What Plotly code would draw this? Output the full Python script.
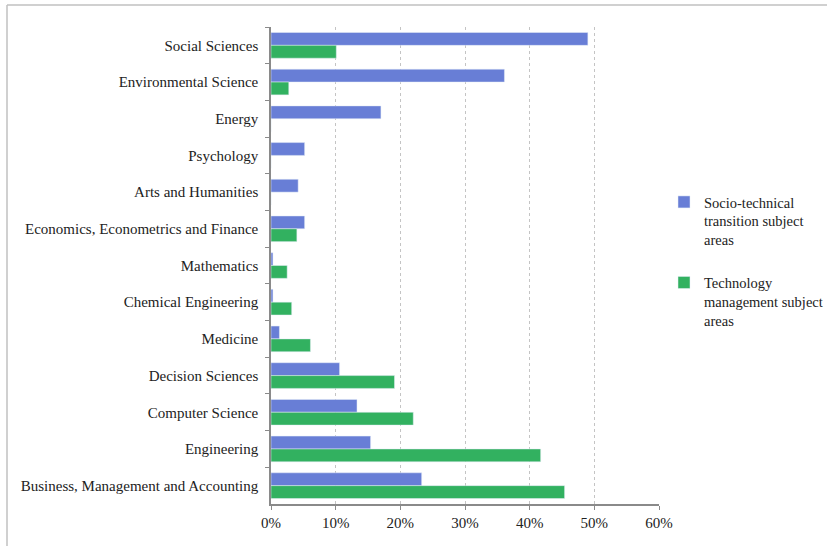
import plotly.graph_objects as go

categories = [
    "Social Sciences", "Environmental Science", "Energy", "Psychology",
    "Arts and Humanities", "Economics, Econometrics and Finance", "Mathematics",
    "Chemical Engineering", "Medicine", "Decision Sciences", "Computer Science",
    "Engineering", "Business, Management and Accounting",
]
socio_technical = [49.0, 36.1, 17.0, 5.2, 4.2, 5.2, 0.3, 0.3, 1.3, 10.6, 13.3, 15.4, 23.3]
tech_management = [10.1, 2.75, 0, 0, 0, 4.0, 2.5, 3.2, 6.1, 19.1, 22.0, 41.7, 45.4]
series_names = ["Socio-technical<br>transition subject<br>areas",
                "Technology<br>management subject<br>areas"]
x_ticks = [0, 10, 20, 30, 40, 50, 60]
x_tick_labels = ["0%", "10%", "20%", "30%", "40%", "50%", "60%"]

FONT = "Liberation Serif, Times New Roman, serif"
L, R, T, B = 271, 169, 27, 42
W, H = 828, 546
pw, ph = W - L - R, H - T - B

fig = go.Figure()
fig.add_trace(go.Bar(y=categories, x=socio_technical, orientation="h",
                     name=series_names[0], marker_color="#687ED6",
                     legendgroup="a"))
fig.add_trace(go.Bar(y=categories, x=tech_management, orientation="h",
                     name=series_names[1], marker_color="#32B160",
                     legendgroup="b"))

def px_x(p):
    return (p - L) / pw

def px_y(p):
    return (H - B - p) / ph

fig.update_layout(
    width=W, height=H,
    margin=dict(l=L, r=R, t=T, b=B, autoexpand=False),
    paper_bgcolor="white", plot_bgcolor="white",
    barmode="group", bargap=0.3, bargroupgap=0.0,
    font=dict(family=FONT, size=15, color="#222"),
    showlegend=True,
    legend=dict(x=px_x(664), y=px_y(186), xanchor="left", yanchor="top",
                valign="top", tracegroupgap=21, traceorder="grouped",
                font=dict(family=FONT, size=14.5, color="#222"),
                bgcolor="rgba(0,0,0,0)"),
    xaxis=dict(range=[0, 60], tickvals=x_ticks, ticktext=x_tick_labels,
               showgrid=True, gridcolor="#c4c4c4", griddash="3px,3px", gridwidth=1,
               showline=True, linecolor="#8a8a8a", linewidth=1.5,
               ticks="outside", ticklen=4, tickcolor="#8a8a8a",
               zeroline=False, fixedrange=True),
    yaxis=dict(categoryorder="array", categoryarray=categories,
               autorange="reversed", showgrid=False,
               showline=True, linecolor="#8a8a8a", linewidth=1.5,
               ticks="outside", ticklen=4, tickcolor="#8a8a8a",
               tickson="boundaries", ticklabelstandoff=8,
               fixedrange=True),
    shapes=[
        dict(type="line", xref="paper", yref="paper",
             x0=px_x(7), x1=px_x(827), y0=px_y(5), y1=px_y(5),
             line=dict(color="#c0c0c0", width=1.5)),
        dict(type="line", xref="paper", yref="paper",
             x0=px_x(7), x1=px_x(7), y0=px_y(5), y1=px_y(546),
             line=dict(color="#c0c0c0", width=1.5)),
    ],
)

fig.write_html("out.html", config={"displayModeBar": False},
               post_script="document.body.style.margin='0';document.body.style.padding='0';")
